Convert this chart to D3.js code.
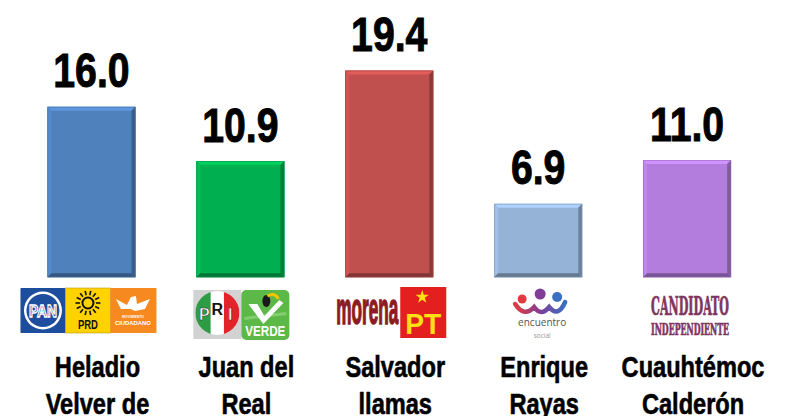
<!DOCTYPE html>
<html><head><meta charset="utf-8">
<script src="https://cdn.jsdelivr.net/npm/d3@7"></script>
<style>body{margin:0;background:#fff;overflow:hidden}</style>
</head><body><svg id="c" width="790" height="416"></svg>
<script>
// ---- data ----
const candidates = ["Heladio Velver de", "Juan del Real", "Salvador llamas", "Enrique Rayas", "Cuauhtémoc Calderón"];
const labelLines = [["Heladio", "Velver de"], ["Juan del", "Real"], ["Salvador", "llamas"], ["Enrique", "Rayas"], ["Cuauhtémoc", "Calderón"]];
const values = [16.0, 10.9, 19.4, 6.9, 11.0];
const barColors = ["#4f81bd", "#00b050", "#c0504d", "#95b3d7", "#b27ddd"];
const parties = ["PAN-PRD-MC", "PRI-PVEM", "MORENA-PT", "PES", "IND"];

// ---- layout ----
const svg = d3.select("#c");
const SANS = "'Liberation Sans',Arial,sans-serif";
const SX = 0.8; // horizontal condensing to mimic a narrow bold face

const x = d3.scaleBand().domain(candidates).range([17, 761.5]).paddingInner(0.408).paddingOuter(0.204);
const y = d3.scaleLinear().domain([0, 20]).range([277.3, 277.3 - 20 * 10.66]);
const bw = x.bandwidth();
const data = candidates.map((c, i) => ({c, v: values[i], col: barColors[i], lines: labelLines[i], party: parties[i]}));

// bars with bevel
const bev = 4;
const bars = svg.append("g").selectAll("g").data(data).join("g");
bars.append("rect")
  .attr("x", d => x(d.c)).attr("y", d => y(d.v))
  .attr("width", bw).attr("height", d => y(0) - y(d.v))
  .attr("fill", d => d.col);
function poly(pts) { return "M" + pts.map(p => p.join(",")).join("L") + "Z"; }
bars.each(function(d) {
  const g = d3.select(this);
  const x0 = x(d.c), x1 = x0 + bw, y0 = y(d.v), y1 = y(0);
  const c = d3.color(d.col);
  g.append("path").attr("d", poly([[x0, y0], [x1, y0], [x1 - bev, y0 + bev], [x0 + bev, y0 + bev]])).attr("fill", c.brighter(0.45));
  g.append("path").attr("d", poly([[x0, y0], [x0 + bev, y0 + bev], [x0 + bev, y1 - bev], [x0, y1]])).attr("fill", c.brighter(0.2));
  g.append("path").attr("d", poly([[x1, y0], [x1, y1], [x1 - bev, y1 - bev], [x1 - bev, y0 + bev]])).attr("fill", c.darker(0.9));
  g.append("path").attr("d", poly([[x0, y1], [x1, y1], [x1 - bev, y1 - bev], [x0 + bev, y1 - bev]])).attr("fill", c.darker(1.1));
  g.append("rect").attr("x", x0 + 0.5).attr("y", y0 + 0.5).attr("width", bw - 1).attr("height", y1 - y0 - 1)
    .attr("fill", "none").attr("stroke", c.darker(0.6)).attr("stroke-width", 0.8).attr("stroke-opacity", 0.6);
});

// value labels (condensed)
svg.append("g").selectAll("g").data(data).join("g")
  .attr("transform", d => `translate(${x(d.c) + bw / 2},${y(d.v) - 19.5}) scale(${SX},1)`)
  .append("text")
  .attr("text-anchor", "middle")
  .attr("font-family", SANS).attr("font-weight", "bold").attr("font-size", 49)
  .attr("fill", "#000").attr("stroke", "#000").attr("stroke-width", 1)
  .text(d => d.v.toFixed(1));

// category labels (condensed)
const lab = svg.append("g").selectAll("g").data(data).join("g")
  .attr("transform", d => `translate(${x(d.c) + bw / 2 + 6},0) scale(${SX},1)`)
  .append("text")
  .attr("text-anchor", "middle")
  .attr("font-family", SANS).attr("font-weight", "bold").attr("font-size", 29.5)
  .attr("fill", "#000").attr("stroke", "#000").attr("stroke-width", 0.6);
lab.selectAll("tspan").data(d => d.lines).join("tspan")
  .attr("x", 0).attr("y", (t, i) => 377.3 + i * 37)
  .text(t => t);

// ---- party logos ----
const logos = svg.append("g");
function sun(g, cx, cy) {
  g.append("circle").attr("cx", cx).attr("cy", cy).attr("r", 5.5).attr("fill", "none").attr("stroke", "#111").attr("stroke-width", 2);
  d3.range(14).forEach(k => {
    const a = k / 14 * 2 * Math.PI;
    g.append("line").attr("x1", cx + Math.cos(a) * 8).attr("y1", cy + Math.sin(a) * 8)
      .attr("x2", cx + Math.cos(a) * 12.5).attr("y2", cy + Math.sin(a) * 12.5)
      .attr("stroke", "#111").attr("stroke-width", 1.6);
  });
}
function fitText(g, str, cx, base, size, width, fill, fam, extra) {
  const t = g.append("text").attr("x", cx).attr("y", base).attr("text-anchor", "middle")
    .attr("font-family", fam || SANS).attr("font-weight", "bold").attr("font-size", size).attr("fill", fill)
    .attr("textLength", width).attr("lengthAdjust", "spacingAndGlyphs").text(str);
  if (extra) extra(t);
  return t;
}
const drawers = {
  "PAN-PRD-MC": (g, cx) => {
    const t = 288, s = 45;
    const a = cx - 71;
    g.append("rect").attr("x", a).attr("y", t).attr("width", s).attr("height", s).attr("fill", "#1d4e9e").attr("rx", 1);
    g.append("circle").attr("cx", a + s / 2).attr("cy", t + s / 2).attr("r", 19).attr("fill", "#fff");
    g.append("circle").attr("cx", a + s / 2).attr("cy", t + s / 2).attr("r", 16.5).attr("fill", "#1d4e9e");
    fitText(g, "PAN", a + s / 2, t + s / 2 + 6, 17, 28, "#1d4e9e", SANS, e => e.attr("stroke", "#fff").attr("stroke-width", 1.4));
    const b = cx - 26;
    g.append("rect").attr("x", b).attr("y", t).attr("width", s).attr("height", s).attr("fill", "#ffd200").attr("stroke", "#b89a00").attr("stroke-width", 0.6);
    sun(g, b + s / 2, t + 15);
    fitText(g, "PRD", b + s / 2, t + 41, 12, 20, "#111");
    const c = cx + 19;
    g.append("rect").attr("x", c).attr("y", t).attr("width", s + 1).attr("height", s).attr("fill", "#f6891f");
    const m = c + s / 2;
    g.append("path").attr("d", `M${m - 17},${t + 11} L${m - 6},${t + 17} L${m - 2},${t + 9} L${m + 3},${t + 8} L${m + 4},${t + 16} L${m + 17},${t + 11} L${m + 12},${t + 21} L${m + 2},${t + 23} L${m - 2},${t + 21} L${m - 12},${t + 21} Z`).attr("fill", "#fff");
    fitText(g, "MOVIMIENTO", m, t + 30, 4, 22, "#fff");
    fitText(g, "CIUDADANO", m, t + 37, 6, 36, "#fff");
  },
  "PRI-PVEM": (g, cx) => {
    const t = 290;
    const a = cx - 47;
    g.append("rect").attr("x", a).attr("y", t).attr("width", 48).attr("height", 49).attr("fill", "#d2d2d2");
    const ccx = a + 24, ccy = t + 23, r = 22;
    g.append("clipPath").attr("id", "priclip").append("circle").attr("cx", ccx).attr("cy", ccy).attr("r", r);
    const cg = g.append("g").attr("clip-path", "url(#priclip)");
    cg.append("rect").attr("x", ccx - r).attr("y", ccy - r).attr("width", r * 0.7).attr("height", 2 * r).attr("fill", "#2e9b45");
    cg.append("rect").attr("x", ccx - r * 0.3).attr("y", ccy - r).attr("width", r * 0.6).attr("height", 2 * r).attr("fill", "#fff");
    cg.append("rect").attr("x", ccx + r * 0.3).attr("y", ccy - r).attr("width", r * 0.7).attr("height", 2 * r).attr("fill", "#e2232a");
    [["P", -13, "#fff", 7], ["R", 0, "#111", 2], ["I", 13, "#fff", 7]].forEach(([L, dx, f, dy]) => {
      g.append("text").attr("x", ccx + dx).attr("y", ccy + dy).attr("text-anchor", "middle")
        .attr("font-family", SANS).attr("font-weight", "bold").attr("font-size", 16).attr("fill", f)
        .attr("stroke", L === "R" ? "none" : "#333").attr("stroke-width", 0.5).text(L);
    });
    const b = cx + 1;
    g.append("rect").attr("x", b).attr("y", t).attr("width", 48).attr("height", 50).attr("rx", 5).attr("fill", "#5cb947");
    g.append("path").attr("d", `M${b + 3},${t + 27} L${b + 45},${t + 22} L${b + 45},${t + 25} L${b + 3},${t + 30} Z`).attr("fill", "#8fd27c").attr("opacity", 0.8);
    g.append("path").attr("d", `M${b + 7},${t + 14} L${b + 16},${t + 14} L${b + 23},${t + 26} L${b + 38},${t + 10} L${b + 42},${t + 13} L${b + 22},${t + 34} Z`).attr("fill", "#fff");
    g.append("ellipse").attr("cx", b + 25).attr("cy", t + 11).attr("rx", 4).attr("ry", 6).attr("fill", "#1a1a1a");
    g.append("path").attr("d", `M${b + 26},${t + 6} Q${b + 34},${t + 2} ${b + 37},${t + 9}`).attr("fill", "none").attr("stroke", "#f2c500").attr("stroke-width", 3);
    fitText(g, "VERDE", b + 24, t + 46, 14, 40, "#fff");
  },
  "MORENA-PT": (g, cx) => {
    fitText(g, "morena", cx - 22, 324, 44, 62, "#8c1b22", SANS, e => e.attr("stroke", "#8c1b22").attr("stroke-width", 1.6));
    const a = cx + 11, t = 287;
    g.append("rect").attr("x", a).attr("y", t).attr("width", 46).attr("height", 51).attr("fill", "#e3201f");
    const star = d3.symbol().type(d3.symbolStar).size(55);
    g.append("path").attr("d", star()).attr("transform", `translate(${a + 22},${t + 10})`).attr("fill", "#ffe014");
    fitText(g, "PT", a + 23, t + 47, 30, 36, "#ffe014");
  },
  "PES": (g, cx) => {
    const t = 289;
    const cols = ["#e23a3f", "#7f3f98", "#3a6fc1"];
    const grad = g.append("linearGradient").attr("id", "pesgrad").attr("gradientUnits", "userSpaceOnUse")
      .attr("x1", cx - 23).attr("x2", cx + 27).attr("y1", 0).attr("y2", 0);
    grad.append("stop").attr("offset", "0%").attr("stop-color", "#e23a3f");
    grad.append("stop").attr("offset", "50%").attr("stop-color", "#7f3f98");
    grad.append("stop").attr("offset", "100%").attr("stop-color", "#3a6fc1");
    [[-16, 10, 4.5], [2, 5, 5.5], [19, 8, 5]].forEach(([dx, dy, r], i) => {
      g.append("circle").attr("cx", cx + dx).attr("cy", t + dy).attr("r", r).attr("fill", cols[i]);
    });
    g.append("path").attr("d", `M${cx - 23},${t + 15} Q${cx - 14},${t + 29} ${cx - 4},${t + 18} Q${cx + 3},${t + 28} ${cx + 11},${t + 18} Q${cx + 20},${t + 29} ${cx + 27},${t + 13}`)
      .attr("fill", "none").attr("stroke", "url(#pesgrad)").attr("stroke-width", 4.5).attr("stroke-linecap", "round");
    g.append("text").attr("x", cx + 4).attr("y", t + 37).attr("text-anchor", "middle")
      .attr("font-family", "'Open Sans',sans-serif").attr("font-size", 10).attr("fill", "#555").text("encuentro");
    g.append("text").attr("x", cx + 4).attr("y", t + 49).attr("text-anchor", "middle")
      .attr("font-family", "'Open Sans',sans-serif").attr("font-size", 6.5).attr("fill", "#999").text("social");
  },
  "IND": (g, cx) => {
    const SER = "'DejaVu Serif Condensed','DejaVu Serif',serif";
    const thick = e => e.attr("stroke", "#7e3560").attr("stroke-width", 0.7);
    fitText(g, "CANDIDATO", cx + 3, 315, 26, 78, "#7e3560", SER, thick);
    fitText(g, "INDEPENDIENTE", cx + 3, 335, 17, 78, "#7e3560", SER, thick);
  }
};
data.forEach(d => {
  drawers[d.party](logos.append("g"), x(d.c) + bw / 2);
});
</script></body></html>
